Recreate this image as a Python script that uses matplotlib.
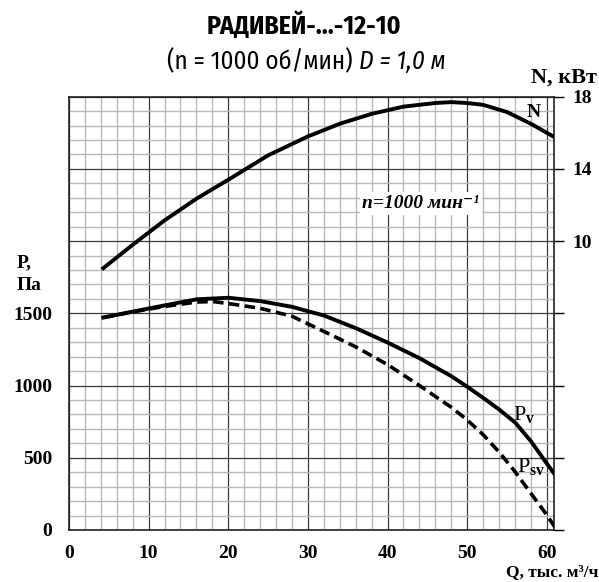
import os
import matplotlib
matplotlib.use('Agg')
import matplotlib.pyplot as plt
from matplotlib import font_manager as fm
from matplotlib.ft2font import FT2Font
from matplotlib.ticker import MultipleLocator, FixedLocator, FuncFormatter

# ---------------- data ----------------
q_n = [4.3, 8, 12, 16, 20, 25, 30, 34, 38, 42, 46, 48, 50, 52, 55, 58, 61]
n_kw = [8.5, 9.8, 11.15, 12.35, 13.4, 14.75, 15.8, 16.5, 17.05, 17.45, 17.65, 17.7, 17.65, 17.55, 17.15, 16.5, 15.75]

q_p = [4.3, 8, 12, 16, 20, 24, 28, 32, 36, 40, 44, 48, 50, 52, 54, 56, 58, 60, 61]
p_v = [1471, 1512, 1555, 1597, 1608, 1585, 1545, 1485, 1398, 1298, 1190, 1065, 992, 915, 835, 745, 615, 460, 385]

q_s = [4.3, 8, 12, 16, 18, 20, 24, 28, 32, 36, 40, 44, 48, 50, 52, 54, 56, 58, 60, 61]
p_sv = [1471, 1510, 1548, 1578, 1582, 1568, 1535, 1480, 1375, 1268, 1145, 1000, 850, 762, 660, 540, 405, 254, 104, 20]

x_ticks = [0, 10, 20, 30, 40, 50, 60]
y_ticks = [0, 500, 1000, 1500]
n_ticks = [10, 14, 18]

title = "РАДИВЕЙ-...-12-10"
sub_plain = "(n = 1000 об/мин) "
sub_ital = "D = 1,0 м"

# ---------------- fonts ----------------
serif = ['Liberation Serif', 'DejaVu Serif']
plt.rcParams['font.family'] = serif
plt.rcParams['font.weight'] = 'bold'
plt.rcParams['mathtext.fontset'] = 'custom'
plt.rcParams['mathtext.rm'] = 'Liberation Serif'
plt.rcParams['mathtext.it'] = 'Liberation Serif:italic'
plt.rcParams['mathtext.bf'] = 'Liberation Serif:bold'

_cov_cache = {}


def covers(fname, text):
    if fname not in _cov_cache:
        try:
            _cov_cache[fname] = set(FT2Font(fname).get_charmap().keys())
        except Exception:
            _cov_cache[fname] = set()
    cm = _cov_cache[fname]
    return all(ord(c) in cm for c in text if not c.isspace())


def find_cond(bold, italic, text):
    best, best_score = None, 1e9
    for f in fm.fontManager.ttflist:
        key = (f.name + ' ' + os.path.basename(f.fname)).lower()
        if not ('condens' in key or 'narrow' in key or str(f.stretch) in ('condensed', 'semi-condensed')):
            continue
        w = f.weight
        wnum = w if isinstance(w, int) else fm.weight_dict.get(w, 400)
        if bold and wnum != 700:
            continue
        if (not bold) and wnum not in (300, 400):
            continue
        if (f.style in ('italic', 'oblique')) != italic:
            continue
        if 'mono' in key or 'serif' in key:
            continue
        score = 0
        if 'extra' in key or 'ultra' in key:
            score += 2
        elif 'semi' in key:
            score += 1
        if 'dejavu' in key:
            score += 5
        if (not bold) and (wnum != 400 or 'light' in key or 'medium' in key):
            score += 3
        if score >= best_score:
            continue
        if not covers(f.fname, text):
            continue
        best, best_score = f.fname, score
    if best is not None:
        return fm.FontProperties(fname=best)
    return fm.FontProperties(family='DejaVu Sans', stretch='condensed',
                             weight='bold' if bold else 'normal',
                             style='italic' if italic else 'normal')


fp_title = find_cond(True, False, title)
fp_sub = find_cond(False, False, sub_plain)
fp_sub_it = find_cond(False, True, sub_ital)

fig = plt.figure(figsize=(5.99, 5.82), dpi=100)
ax = fig.add_axes([69/599, 52/582, (554-69)/599, (530-96.7)/582])
ax.set_xlim(0, 60.9)
ax.set_ylim(0, 3000)
ax.xaxis.set_major_locator(MultipleLocator(10))
ax.xaxis.set_minor_locator(MultipleLocator(2))
ax.yaxis.set_major_locator(MultipleLocator(500))
ax.yaxis.set_minor_locator(MultipleLocator(100))
ax.grid(which='minor', color='#b8b8b8', lw=1.0)
ax.grid(which='major', color='#3a3a3a', lw=0.9)
ax.set_axisbelow(True)
ax.xaxis.set_major_formatter(FuncFormatter(lambda v, p: f"{int(round(v))}" if int(round(v)) in x_ticks else ""))
ax.yaxis.set_major_formatter(FuncFormatter(lambda v, p: f"{int(round(v))}" if int(round(v)) in y_ticks else ""))
ax.tick_params(which='both', length=0, labelsize=14)
ax.tick_params(axis='x', pad=11)
ax.tick_params(axis='y', pad=12)
for s in ax.spines.values():
    s.set_linewidth(1.2)
    s.set_color('#222222')

ax.plot(q_p, p_v, color='black', lw=2.8, zorder=3)
ax.plot(q_s, p_sv, color='black', lw=2.6, dashes=(2.9, 1.5), zorder=4)

ax2 = ax.twinx()
ax2.set_ylim(-6, 18)
ax2.yaxis.set_major_locator(FixedLocator([-6, -2, 2, 6, 10, 14, 18]))
ax2.yaxis.set_major_formatter(FuncFormatter(lambda v, p: f"{int(round(v))}" if int(round(v)) in n_ticks else ""))
ax2.tick_params(axis='y', direction='out', length=7, width=1.0, pad=6, colors='black', labelsize=14)
for s in ax2.spines.values():
    s.set_visible(False)
ax2.plot(q_n, n_kw, color='black', lw=2.8, zorder=3)

# curve labels
ax2.text(58.4, 17.1, "N", fontsize=14, ha='center', va='center')
ax.text(55.7, 800, r"P$_\mathbf{v}$", fontsize=16, fontweight='normal', ha='left', va='center')
ax.text(56.3, 440, r"P$_\mathbf{sv}$", fontsize=16, fontweight='normal', ha='left', va='center')
ax.text(44.2, 2262, "n=1000 мин⁻¹", style='italic', fontsize=14,
        ha='center', va='center', zorder=5,
        bbox=dict(boxstyle='square,pad=0.15', fc='white', ec='none'))

# axis labels
fig.text(17/599, 1 - 263/582, "P,", fontsize=14, ha='left', va='center')
fig.text(17/599, 1 - 286/582, "Па", fontsize=14, ha='left', va='center')
fig.text(597/599, 1 - 78/582, "N, кВт", fontsize=16, ha='right', va='center')
fig.text(598/599, 1 - 576/582, "Q, тыс. м³/ч", fontsize=12.5, ha='right', va='baseline')

# titles (size fitted to the reference width)
r = fig.canvas.get_renderer()
t = fig.text(304/599, 1 - 25/582, title, fontproperties=fp_title, ha='center', va='center')
t.set_fontsize(20)
w = t.get_window_extent(renderer=r).width
t.set_fontsize(20 * 195 / w)

t1 = fig.text(167/599, 1 - 62/582, sub_plain, fontproperties=fp_sub, ha='left', va='center')
t2 = fig.text(0, 1 - 62/582, sub_ital, fontproperties=fp_sub_it, ha='left', va='center')
t1.set_fontsize(20)
t2.set_fontsize(20)
wt = t1.get_window_extent(renderer=r).width + t2.get_window_extent(renderer=r).width
s = 20 * 278 / wt
t1.set_fontsize(s)
t2.set_fontsize(s)
bb = t1.get_window_extent(renderer=r)
t2.set_x(bb.x1 / fig.bbox.width)

fig.savefig('out.png', dpi=100)
